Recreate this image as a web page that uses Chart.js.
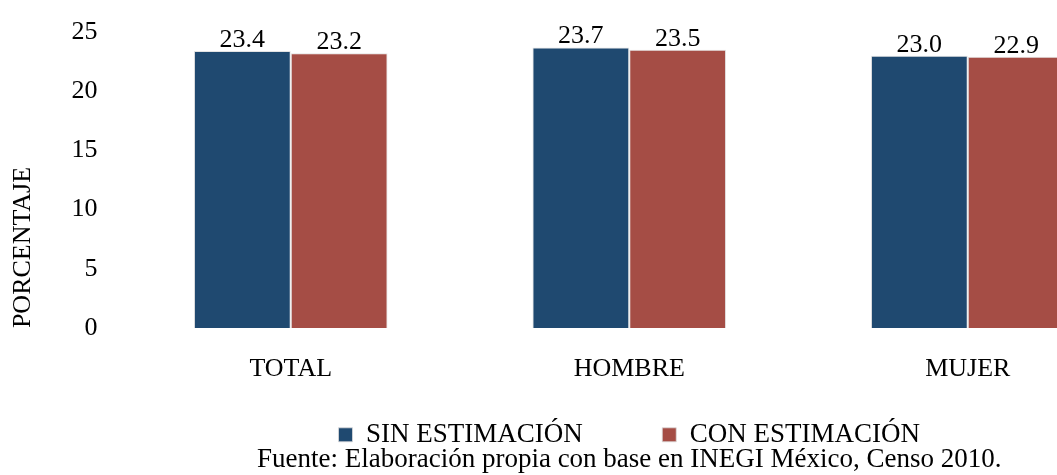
<!DOCTYPE html>
<html>
<head>
<meta charset="utf-8">
<script src="https://cdn.jsdelivr.net/npm/chart.js@4/dist/chart.umd.min.js"></script>
<style>
  html, body { margin: 0; padding: 0; background: #fff; overflow: hidden; }
  #chartDiv { width: 1137px; height: 475px; }
</style>
</head>
<body>
<div id="chartDiv"><canvas id="Chart"></canvas></div>
<script>
const categories = ["TOTAL", "HOMBRE", "MUJER"];
const sinEstimacion = [23.4, 23.7, 23.0];
const conEstimacion = [23.2, 23.5, 22.9];
const yTicks = [0, 5, 10, 15, 20, 25];

const serif = "'Liberation Serif', 'Times New Roman', serif";

// value labels above each bar
const barLabels = {
    id: "barLabels",
    afterDatasetsDraw(chart) {
        const ctx = chart.ctx;
        ctx.save();
        ctx.font = "26px " + serif;
        ctx.fillStyle = "#000";
        ctx.textAlign = "center";
        ctx.textBaseline = "alphabetic";
        chart.data.datasets.forEach((ds, i) => {
            chart.getDatasetMeta(i).data.forEach((bar, j) => {
                ctx.fillText(ds.data[j].toFixed(1), bar.x, bar.y - 4);
            });
        });
        ctx.restore();
    }
};

const ctx = document.getElementById("Chart");
const chart = new Chart(ctx, {
    type: "bar",
    data: {
        labels: categories,
        datasets: [{
            // trailing spaces widen the gap between the two legend items
            label: "SIN ESTIMACIÓN" + "\u00a0".repeat(10),
            data: sinEstimacion,
            backgroundColor: "#1f4970",
            borderColor: "rgba(220,220,220,0.8)",
            borderWidth: 1,
            categoryPercentage: 0.572,
            barPercentage: 1.0,
        },
        {
            label: "CON ESTIMACIÓN",
            data: conEstimacion,
            backgroundColor: "#a54d45",
            borderColor: "rgba(220,220,220,0.8)",
            borderWidth: 1,
            categoryPercentage: 0.572,
            barPercentage: 1.0,
        }],
    },
    options: {
        responsive: true,
        maintainAspectRatio: false,
        animation: false,
        layout: {
            padding: { top: 32, left: 0, right: 0, bottom: 0 }
        },
        plugins: {
            legend: {
                position: "bottom",
                fullSize: false,
                labels: {
                    boxWidth: 14,
                    boxHeight: 14,
                    padding: 12,
                    color: "#000",
                    font: { family: serif, size: 27 },
                }
            },
            subtitle: {
                display: true,
                position: "bottom",
                fullSize: false,
                text: "Fuente: Elaboración propia con base en INEGI México, Censo 2010.",
                color: "#000",
                font: { family: serif, size: 27, weight: "normal", lineHeight: 1.1 },
                padding: { top: -13, bottom: 0 },
            },
            tooltip: { enabled: false },
        },
        scales: {
            x: {
                grid: { display: false, drawTicks: false },
                border: { display: false },
                ticks: {
                    padding: 25,
                    color: "#000",
                    font: { family: serif, size: 26 },
                }
            },
            y: {
                min: 0,
                max: 25,
                afterBuildTicks: (scale) => {
                    scale.ticks = yTicks.map(v => ({ value: v }));
                },
                afterFit: (scale) => {
                    scale.width = 121.5;
                    scale.paddingTop = 0;
                    scale.paddingBottom = 0;
                },
                grid: { display: false, drawTicks: false },
                border: { display: false },
                ticks: {
                    padding: 24,
                    color: "#000",
                    font: { family: serif, size: 26 },
                },
                title: {
                    display: true,
                    text: "PORCENTAJE",
                    align: "start",
                    color: "#000",
                    font: { family: serif, size: 26 },
                    padding: { top: 8, bottom: 0 },
                }
            }
        }
    },
    plugins: [barLabels]
});
</script>
</body>
</html>
